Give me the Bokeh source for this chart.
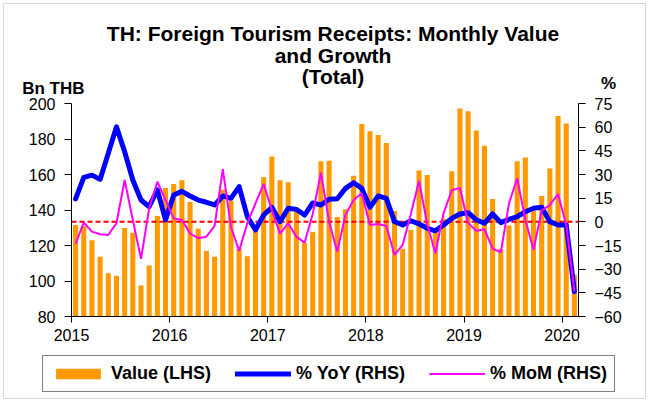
from bokeh.plotting import figure
from bokeh.models import (LinearAxis, Range1d, FixedTicker, Label, Legend,
                          LegendItem, ColumnDataSource, BoxAnnotation)
from bokeh.embed import file_html
from bokeh.resources import INLINE

# ---------------- data ----------------
years = ["2015", "2016", "2017", "2018", "2019", "2020"]
months = [f"{y}-{m:02d}" for y in range(2015, 2021) for m in range(1, 13)][:62]

value = [131.6, 131.0, 123.0, 113.6, 104.4, 102.9, 129.9, 127.2, 97.4, 108.7, 136.6, 152.4,
         154.6, 156.7, 144.5, 129.5, 116.9, 113.6, 151.4, 145.2, 118.5, 114.0, 129.0, 158.5,
         170.2, 156.7, 155.7, 141.0, 121.4, 127.6, 167.4, 167.8, 136.1, 140.4, 159.3, 188.5,
         184.4, 182.2, 177.7, 139.4, 118.1, 128.8, 162.3, 159.7, 128.0, 135.1, 161.9, 197.2,
         195.7, 184.8, 176.2, 146.2, 118.0, 131.2, 167.4, 169.6, 139.4, 147.9, 163.4, 192.9,
         188.8, 103.5]

yoy = [14.5, 28.2, 29.6, 26.9, 43.4, 60.2, 44.4, 26.5, 13.8, 9.6, 20.2, 1.2,
       17.0, 19.3, 16.4, 13.8, 12.4, 10.7, 16.4, 14.9, 22.3, 3.3, -5.1, 4.3,
       9.2, 0.1, 8.6, 7.9, 4.3, 12.0, 10.7, 14.3, 14.6, 21.2, 24.8, 21.2,
       9.2, 16.4, 14.9, 0.1, -2.0, 0.7, -1.4, -4.1, -5.7, -2.0, 2.2, 5.0,
       5.8, 1.2, -0.9, 5.0, -0.5, 1.6, 3.3, 6.4, 8.6, 9.2, 0.1, -2.0,
       -2.0, -44.2]

mom = [-14.0, -0.3, -6.2, -7.9, -8.3, -0.9, 26.5, 1.2, -23.5, 8.6, 25.4, 13.8,
       2.2, 1.2, -7.3, -10.4, -9.4, -2.6, 33.4, -3.1, -18.4, -0.9, 11.7, 24.0,
       7.5, -7.5, -0.9, -9.4, -13.2, 5.0, 31.1, 0.1, -18.9, 4.3, 13.8, 18.1,
       -2.0, -1.4, -2.6, -21.0, -14.6, 5.0, 26.0, -1.5, -19.9, 5.5, 20.0, 21.5,
       -0.8, -5.6, -4.7, -17.0, -19.3, 11.7, 27.6, 1.3, -17.8, 7.1, 10.7, 17.6,
       -2.0, -44.0]

left_ticks = [80, 100, 120, 140, 160, 180, 200]
right_ticks = [-60, -45, -30, -15, 0, 15, 30, 45, 60, 75]

title_lines = ["TH: Foreign Tourism Receipts: Monthly Value", "and Growth", "(Total)"]
left_unit = "Bn THB"
right_unit = "%"
series_names = ["Value (LHS)", "% YoY (RHS)", "% MoM (RHS)"]

# ---------------- layout constants (pixels in the canvas) ----------------
FONT = "Liberation Sans"
CW, CH = 648, 401
PL, PR, PT, PB = 71, 578, 103, 316   # plot area inside canvas

n = len(months)
ppu_x = (PR - PL) / n
x_range = Range1d(-PL / ppu_x, n + (CW - PR) / ppu_x)


def y_range_for(lo, hi):
    ppu = (PB - PT) / (hi - lo)
    return Range1d(lo - (CH - PB) / ppu, hi + PT / ppu)


ylo, yhi = left_ticks[0], left_ticks[-1]
rlo, rhi = right_ticks[0], right_ticks[-1]

p = figure(width=CW, height=CH, output_backend="svg", toolbar_location=None,
           x_range=x_range, y_range=y_range_for(ylo, yhi),
           x_axis_location=None, y_axis_location=None, min_border=0)
p.extra_y_ranges = {"pct": y_range_for(rlo, rhi)}
p.grid.visible = False
p.outline_line_color = None
p.background_fill_color = "white"
p.border_fill_color = "white"

year_ticks = [12 * i for i in range(len(years))]
xaxis = LinearAxis(ticker=FixedTicker(ticks=year_ticks),
                   major_label_overrides={t: y for t, y in zip(year_ticks, years)},
                   fixed_location=ylo, bounds=(0, n))
yaxis = LinearAxis(ticker=FixedTicker(ticks=left_ticks), fixed_location=0,
                   bounds=(ylo, yhi))
raxis = LinearAxis(y_range_name="pct", ticker=FixedTicker(ticks=right_ticks),
                   fixed_location=n, bounds=(rlo, rhi))
p.add_layout(xaxis, "below")
p.add_layout(yaxis, "left")
p.add_layout(raxis, "right")

for ax in [xaxis, yaxis, raxis]:
    ax.axis_line_color = "black"
    ax.axis_line_width = 1
    ax.major_tick_line_color = "black"
    ax.major_tick_in = 0
    ax.major_tick_out = 7
    ax.minor_tick_line_color = None
    ax.major_label_text_font = FONT
    ax.major_label_text_font_size = "16px"
    ax.major_label_text_color = "black"
    ax.major_label_standoff = 9
xaxis.major_tick_out = 6
xaxis.major_label_standoff = 6

xpos = [i + 0.5 for i in range(n)]
src = ColumnDataSource(dict(x=xpos, month=months, value=value, yoy=yoy, mom=mom))

bars = p.vbar(x="x", top="value", bottom=ylo, width=0.62, source=src,
              fill_color="#FF9900", line_color=None)

p.segment(x0=[0], x1=[n], y0=[0], y1=[0], y_range_name="pct",
          line_color="#FF0000", line_width=2, line_dash="5 3")

l_yoy = p.line(x="x", y="yoy", source=src, y_range_name="pct",
               line_color="#0000FF", line_width=5, line_join="round", line_cap="round")
l_mom = p.line(x="x", y="mom", source=src, y_range_name="pct",
               line_color="#FF00FF", line_width=2)

# ---------------- texts (screen px from canvas bottom-left) ----------------
def sx(page_x):
    return page_x


def sy(page_y):
    return CH - page_y


# outer chart border
p.add_layout(BoxAnnotation(left=sx(3), right=sx(645), top=sy(3), bottom=sy(398),
                           left_units="screen", right_units="screen",
                           top_units="screen", bottom_units="screen",
                           fill_alpha=0, line_color="#7F7F7F", line_width=1))

for txt, base in zip(title_lines, [32.5, 54.5, 75.5]):
    p.add_layout(Label(x=sx(332.5), y=sy(base), x_units="screen", y_units="screen",
                       text=txt, text_align="center", text_baseline="alphabetic",
                       text_font=FONT, text_font_style="bold", text_font_size="21px",
                       text_color="black"))
p.add_layout(Label(x=sx(21.7), y=sy(88), x_units="screen", y_units="screen",
                   text=left_unit, text_align="left", text_baseline="alphabetic",
                   text_font=FONT, text_font_style="bold", text_font_size="17px",
                   text_color="black"))
p.add_layout(Label(x=sx(608), y=sy(83), x_units="screen", y_units="screen",
                   text=right_unit, text_align="center", text_baseline="alphabetic",
                   text_font=FONT, text_font_style="bold", text_font_size="17px",
                   text_color="black"))

legend = Legend(items=[LegendItem(label=series_names[0], renderers=[bars]),
                       LegendItem(label=series_names[1], renderers=[l_yoy]),
                       LegendItem(label=series_names[2], renderers=[l_mom])],
                location=(sx(42), sy(392)), orientation="horizontal",
                glyph_width=56, glyph_height=13, label_standoff=5, spacing=24,
                padding=7, margin=0, border_line_color="black", border_line_width=1,
                background_fill_color="white", background_fill_alpha=1,
                label_text_font=FONT, label_text_font_style="bold",
                label_text_font_size="18px", label_text_color="black")
p.add_layout(legend)

open("out.html", "w").write(file_html(p, INLINE))
